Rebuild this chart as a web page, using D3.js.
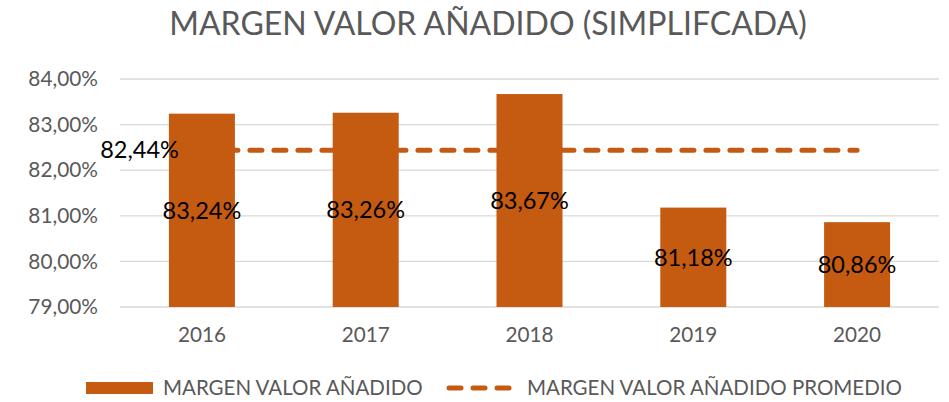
<!DOCTYPE html>
<html>
<head>
<meta charset="utf-8">
<script src="https://cdn.jsdelivr.net/npm/d3@7"></script>
<style>
  body { margin: 0; background: #fff; }
  svg { display: block; font-family: Lato, "Open Sans", sans-serif; }
</style>
</head>
<body>
<svg id="chart" width="949" height="402"></svg>
<script>
"use strict";

const years = ["2016", "2017", "2018", "2019", "2020"];
const margenValues = [83.24, 83.26, 83.67, 81.18, 80.86];
const promedioValues = [82.44, 82.44, 82.44, 82.44, 82.44];
const yTicks = [79, 80, 81, 82, 83, 84];

const BAR_COLOR = "#C55A11";
const TEXT_GRAY = "#595959";

const fmt = v => v.toFixed(2).replace(".", ",") + "%";

const svg = d3.select("#chart");

const x = d3.scaleBand()
    .domain(years)
    .range([120, 939])
    .paddingInner(0.597)
    .paddingOuter(0.2985);

const y = d3.scaleLinear()
    .domain([79, 84])
    .range([307, 79]);

// title
svg.append("text")
    .attr("x", 488)
    .attr("y", 35)
    .attr("text-anchor", "middle")
    .attr("font-size", 32)
    .attr("fill", TEXT_GRAY)
    .text("MARGEN VALOR AÑADIDO (SIMPLIFCADA)");

// gridlines
svg.append("g")
    .selectAll("line")
    .data(yTicks)
    .join("line")
    .attr("x1", 120)
    .attr("x2", 939)
    .attr("y1", d => y(d))
    .attr("y2", d => y(d))
    .attr("stroke", "#D9D9D9")
    .attr("stroke-width", 1.3);

// y axis labels
const yAxis = svg.append("g")
    .attr("transform", "translate(98,0)")
    .call(d3.axisLeft(y).tickValues(yTicks).tickSize(0).tickPadding(0).tickFormat(fmt));
yAxis.select(".domain").remove();
yAxis.selectAll("text")
    .attr("fill", TEXT_GRAY)
    .attr("font-size", 20.8)
    .attr("font-family", "Lato, sans-serif");

// x axis labels
const xAxis = svg.append("g")
    .attr("transform", "translate(0,307)")
    .call(d3.axisBottom(x).tickSize(0).tickPadding(20));
xAxis.select(".domain").remove();
xAxis.selectAll("text")
    .attr("fill", TEXT_GRAY)
    .attr("font-size", 20.7)
    .attr("font-family", "Lato, sans-serif");

// average line (behind bars)
const line = d3.line()
    .x((d, i) => x(years[i]) + x.bandwidth() / 2)
    .y(d => y(d));

svg.append("path")
    .datum(promedioValues)
    .attr("d", line)
    .attr("fill", "none")
    .attr("stroke", BAR_COLOR)
    .attr("stroke-width", 5)
    .attr("stroke-linecap", "round")
    .attr("stroke-dasharray", "12,12");

// bars
svg.append("g")
    .selectAll("rect")
    .data(margenValues)
    .join("rect")
    .attr("x", (d, i) => x(years[i]))
    .attr("y", d => y(d))
    .attr("width", x.bandwidth())
    .attr("height", d => y(79) - y(d))
    .attr("fill", BAR_COLOR);

// bar labels
svg.append("g")
    .selectAll("text")
    .data(margenValues)
    .join("text")
    .attr("x", (d, i) => x(years[i]) + x.bandwidth() / 2)
    .attr("y", d => (y(d) + y(79)) / 2)
    .attr("dy", "0.35em")
    .attr("text-anchor", "middle")
    .attr("font-size", 23.5)
    .attr("fill", "#000")
    .text(fmt);

// average label
svg.append("text")
    .attr("x", x(years[0]) + x.bandwidth() / 2 - 23)
    .attr("y", y(promedioValues[0]))
    .attr("dy", "0.35em")
    .attr("text-anchor", "end")
    .attr("font-size", 23.5)
    .attr("fill", "#000")
    .text(fmt(promedioValues[0]));

// legend
const legend = svg.append("g");
legend.append("rect")
    .attr("x", 86)
    .attr("y", 382)
    .attr("width", 67)
    .attr("height", 12)
    .attr("fill", BAR_COLOR);
legend.append("text")
    .attr("x", 163)
    .attr("y", 388)
    .attr("dy", "0.35em")
    .attr("font-size", 20.5)
    .attr("fill", TEXT_GRAY)
    .text("MARGEN VALOR AÑADIDO");
legend.append("line")
    .attr("x1", 449)
    .attr("x2", 515)
    .attr("y1", 388)
    .attr("y2", 388)
    .attr("stroke", BAR_COLOR)
    .attr("stroke-width", 5)
    .attr("stroke-linecap", "round")
    .attr("stroke-dasharray", "12,12");
legend.append("text")
    .attr("x", 527)
    .attr("y", 388)
    .attr("dy", "0.35em")
    .attr("font-size", 20.5)
    .attr("fill", TEXT_GRAY)
    .text("MARGEN VALOR AÑADIDO PROMEDIO");
</script>
</body>
</html>
